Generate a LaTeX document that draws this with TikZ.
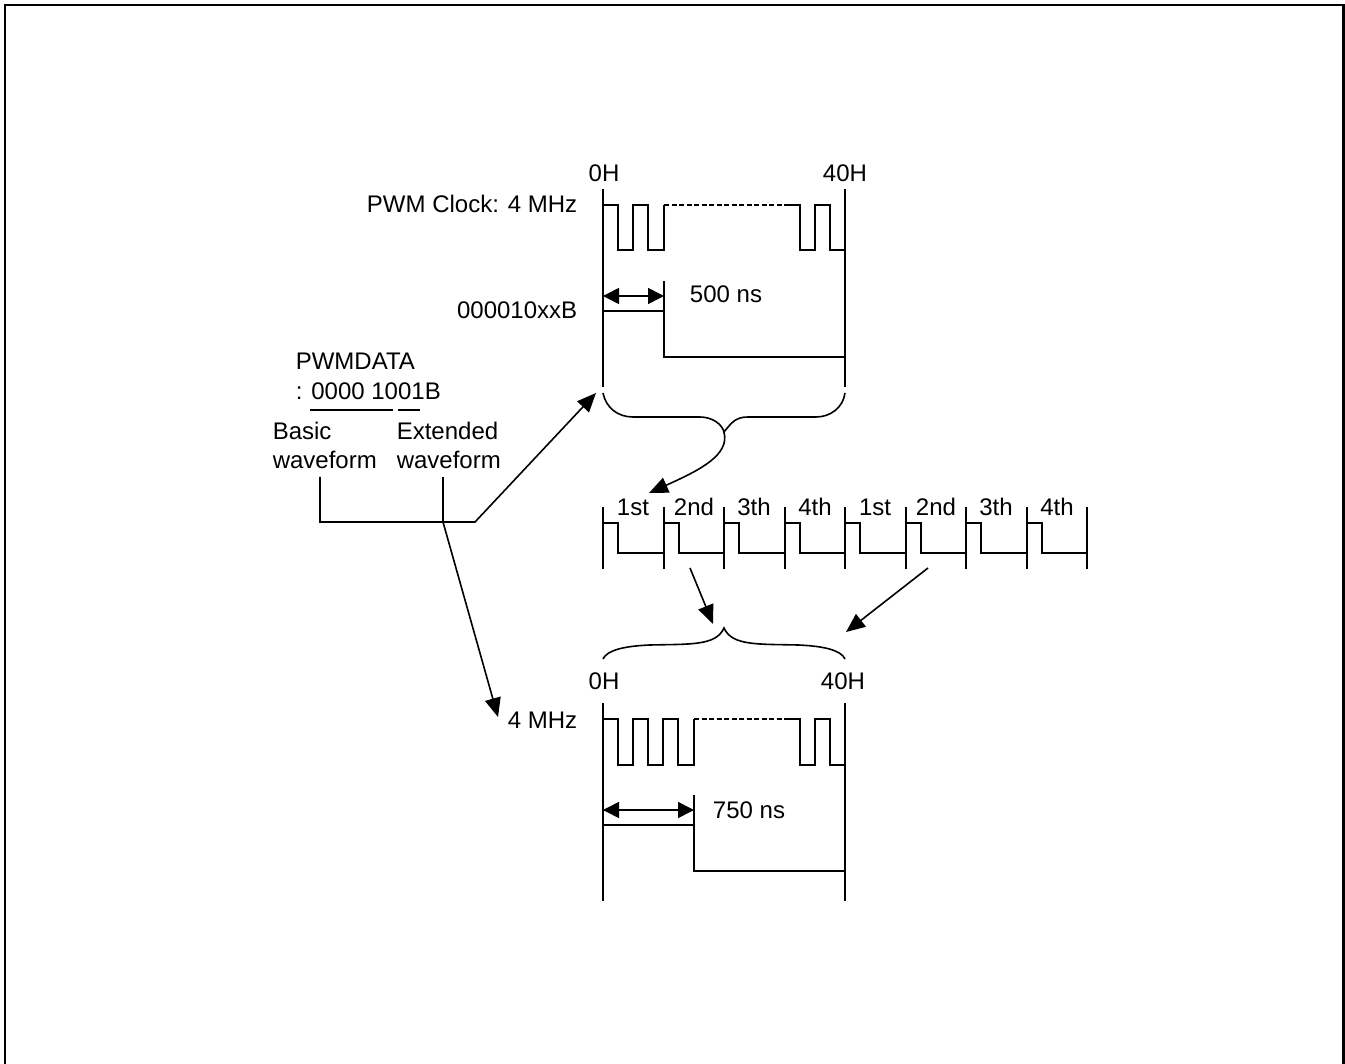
\documentclass[tikz,border=0pt]{standalone}
\usepackage{fontspec}
\setmainfont{Liberation Sans}
\usetikzlibrary{arrows.meta, calc}

\begin{document}
\begin{tikzpicture}[
  x=1pt, y=-1pt,
  line width=1.6pt,
  lbl/.style    = {inner sep=0pt, font=\fontsize{24}{30}\selectfont},
  lblw/.style   = {lbl, anchor=base west},
  lble/.style   = {lbl, anchor=base east},
  lblc/.style   = {lbl, anchor=base},
  arr/.style    = {-{Stealth[length=19pt, width=16pt, inset=0pt]}},
  darr/.style   = {{Stealth[length=16pt, width=16pt, inset=0pt]}-{Stealth[length=16pt, width=16pt, inset=0pt]}},
  dashline/.style = {dash pattern=on 5pt off 2.5pt, line width=1.3pt}
]
\useasboundingbox (0,0) rectangle (1345,1064);
\draw[line width=2.5pt] (5,1064) -- (5,5) -- (1343.5,5) -- (1343.5,1064);

% upper waveform
\node[lblc] (h0a)   at (604,182) {0H};
\node[lblc] (h40a)  at (845,182) {40H};
\node[lble] (clka)  at (578,213) {PWM Clock: 4 MHz};
\node[lble] (dataa) at (578,319) {000010xxB};
\node[lblc] (nsa)   at (726,303) {500 ns};
\draw (603,189) -- (603,387);
\draw (845,189) -- (845,387);
\draw (603,205) -| (618,250) -| (633,205) -| (648,250) -| (664,205);
\draw[dashline] (664,205) -- (784,205);
\draw (784,205) -| (800,250) -| (815,205) -| (830,250) -- (845,250);
\draw (603,311) -| (664,281);
\draw (664,311) |- (845,357);
\draw[darr] (603,296) -- (664,296);

% upper brace
\coordinate (bracea) at (724,432);
\coordinate (tipa)   at (649,493);
\draw (603,393) .. controls (606,408) and (618,417) .. (633,417) -- (700,417)
      .. controls (712,417) and (722,424) .. (bracea)
      .. controls (732,422) and (736,417) .. (748,417) -- (816,417)
      .. controls (830,417) and (843,408) .. (845,393);
\draw[arr] (bracea) .. controls (730,455) and (700,470) .. (tipa);

% left labels
\node[lblw] (pwm)  at (295,370) {PWMDATA};
\node[lblw] (val)  at (295,400) {: 0000 1001B};
\node[lblw] (bas)  at (272,440) {Basic};
\node[lblw] (basw) at (272,469) {waveform};
\node[lblw] (ext)  at (396,440) {Extended};
\node[lblw] (extw) at (396,469) {waveform};
\draw (310,410) -- (393,410);
\draw (398,410) -- (420,410);
\coordinate (joint) at (443,522);
\coordinate (bend)  at (475,522);
\coordinate (tipb)  at (596,393);
\coordinate (tipc)  at (498,717);
\draw[arr] (320,477) |- (bend) -- (tipb);
\draw (443,477) -- (joint);
\draw[arr] (joint) -- (tipc);

% middle row
\foreach \xa/\txt [count=\i] in {603/1st, 664/2nd, 724/3th, 785/4th, 845/1st, 906/2nd, 966/3th, 1027/4th} {
  \node[lblc] (cell\i) at (\xa+30,515) {\txt};
  \draw (\xa,507) -- (\xa,569);
  \draw (\xa,523) -| (\xa+15,553) -- (\xa+60.5,553);
}
\draw (1087,507) -- (1087,569);
\coordinate (taila) at (690,568);
\coordinate (tipd)  at (713,624);
\coordinate (tailb) at (928,568);
\coordinate (tipe)  at (846,632);
\draw[arr] (taila) -- (tipd);
\draw[arr] (tailb) -- (tipe);

% lower brace
\draw (603,659) .. controls (607,650) and (625,646) .. (650,645)
      .. controls (690,644) and (716,646) .. (724,628)
      .. controls (732,646) and (758,644) .. (798,645)
      .. controls (823,646) and (841,650) .. (845,659);

% lower waveform
\node[lblc] (h0b)  at (604,689) {0H};
\node[lblc] (h40b) at (843,689) {40H};
\node[lble] (clkb) at (578,728) {4 MHz};
\node[lblc] (nsb)  at (749,818) {750 ns};
\draw (603,703) -- (603,901);
\draw (845,703) -- (845,901);
\draw (603,719) -| (618,765) -| (633,719) -| (648,765) -| (663,719) -| (678,765) -| (694,719);
\draw[dashline] (694,719) -- (784,719);
\draw (784,719) -| (800,765) -| (815,719) -| (830,765) -- (845,765);
\draw (603,825) -| (694,795);
\draw (694,825) |- (845,871);
\draw[darr] (603,810) -- (694,810);
\end{tikzpicture}
\end{document}
